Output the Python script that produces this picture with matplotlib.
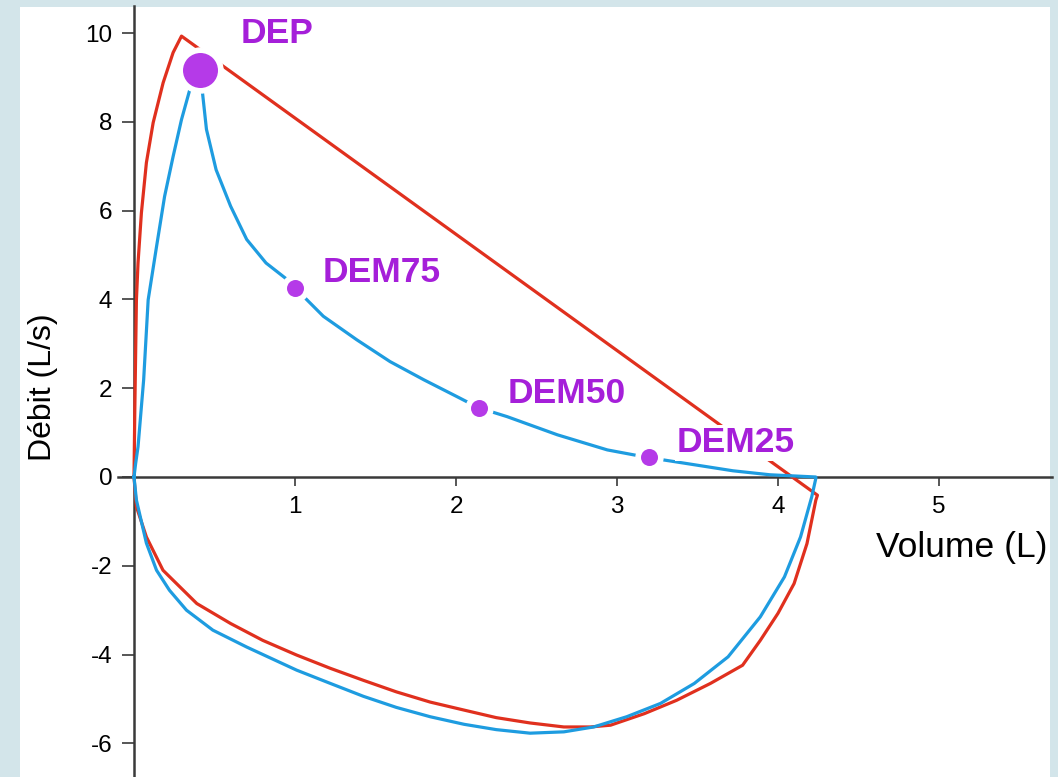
import matplotlib
matplotlib.use("Agg")
import matplotlib.pyplot as plt
from matplotlib.patches import Rectangle

plt.rcParams['font.family'] = ['Liberation Sans', 'DejaVu Sans']
plt.rcParams['axes.unicode_minus'] = False

# Red loop (expiration then inspiration), volume in L, flow in L/s.
red_volume = [0.0, 0.005, 0.015, 0.025, 0.046, 0.077, 0.119, 0.181, 0.243, 0.295,
              4.245, 4.235, 4.18, 4.10, 4.0, 3.89, 3.78, 3.58, 3.37, 3.17, 2.96,
              2.835, 2.67, 2.46, 2.25, 2.05, 1.84, 1.63, 1.425, 1.22, 1.01, 0.80,
              0.60, 0.39, 0.18, 0.077, 0.015, 0.0]
red_flow   = [0.0, 1.5, 3.99, 4.82, 5.95, 7.08, 7.98, 8.88, 9.56, 9.93,
              -0.41, -0.52, -1.5, -2.40, -3.07, -3.68, -4.24, -4.65, -5.03, -5.33, -5.59,
              -5.63, -5.63, -5.54, -5.42, -5.25, -5.07, -4.84, -4.58, -4.31, -4.01, -3.68,
              -3.3, -2.85, -2.1, -1.35, -0.67, 0.0]

# Blue loop.
blue_volume = [0.0, 0.01, 0.025, 0.06, 0.088, 0.14, 0.19, 0.243, 0.295, 0.347, 0.41,
               0.45, 0.51, 0.60, 0.70, 0.82, 0.94, 1.0, 1.176, 1.384, 1.59, 1.80,
               2.006, 2.14, 2.317, 2.63, 2.94, 3.19, 3.35, 3.72, 3.95, 4.235,
               4.235, 4.21, 4.14, 4.04, 3.89, 3.69, 3.48, 3.27, 3.06, 2.855,
               2.67, 2.46, 2.25, 2.05, 1.84, 1.63, 1.425, 1.22, 1.01, 0.70, 0.49,
               0.326, 0.22, 0.14, 0.077, 0.015, 0.0]
blue_flow   = [0.0, 0.3, 0.68, 2.19, 3.99, 5.19, 6.32, 7.22, 8.05, 8.73, 9.17,
               7.83, 6.92, 6.1, 5.35, 4.82, 4.48, 4.26, 3.62, 3.09, 2.6, 2.19,
               1.81, 1.56, 1.36, 0.95, 0.61, 0.44, 0.35, 0.14, 0.05, 0.0,
               -0.03, -0.44, -1.35, -2.25, -3.15, -4.05, -4.65, -5.1, -5.4, -5.63,
               -5.74, -5.77, -5.69, -5.57, -5.4, -5.19, -4.94, -4.65, -4.35, -3.83, -3.45,
               -3.0, -2.55, -2.1, -1.49, -0.52, 0.0]

# Marked points on the blue curve.
point_names  = ["DEP", "DEM75", "DEM50", "DEM25"]
point_volume = [0.41, 1.0, 2.14, 3.2]
point_flow   = [9.17, 4.26, 1.56, 0.44]
label_volume = [0.66, 1.17, 2.32, 3.37]
label_flow   = [10.0, 4.6, 1.89, 0.77]

x_ticks = [1, 2, 3, 4, 5]
y_ticks = [-6, -4, -2, 0, 2, 4, 6, 8, 10]

red   = '#e0301e'
blue  = '#1e9ce0'
purple_text   = '#a51fd9'
purple_marker = '#b53ae8'
axis_color = '#3a3a3a'

fig = plt.figure(figsize=(10.58, 7.77), dpi=100, facecolor='#d3e5ea')
fig.patches.append(Rectangle((20/1058, 0), 1030/1058, 770/777, transform=fig.transFigure,
                             facecolor='white', edgecolor='none', zorder=-5))

ax = fig.add_axes([117.9/1058, 0.0004, 933.8/1058, 0.9914])
ax.set_facecolor('none')
ax.set_xlim(-0.1, 5.7)
ax.set_ylim(-6.75, 10.6)

# Curves.
ax.plot(red_volume, red_flow, color=red, lw=2.3, zorder=3, solid_joinstyle='round')
ax.plot(blue_volume, blue_flow, color=blue, lw=2.3, zorder=4, solid_joinstyle='round')

# Markers with a white halo.
sizes = [35, 17, 17, 17]
for i in range(len(point_names)):
  ax.plot(point_volume[i], point_flow[i], 'o', ms=(sizes[i]+10)*0.72, color='white', zorder=5)
  ax.plot(point_volume[i], point_flow[i], 'o', ms=sizes[i]*0.72, color=purple_marker,
          markeredgewidth=0, zorder=6)
  ax.text(label_volume[i], label_flow[i], point_names[i], color=purple_text, fontsize=25.5,
          fontweight='bold', ha='left', va='center', zorder=7,
          bbox=dict(facecolor='white', edgecolor='none', pad=1.0))

# Axes through the origin.
for side in ['top', 'right']:
  ax.spines[side].set_visible(False)
ax.spines['left'].set_position(('data', 0))
ax.spines['bottom'].set_position(('data', 0))
for side in ['left', 'bottom']:
  ax.spines[side].set_color(axis_color)
  ax.spines[side].set_linewidth(1.8)
  ax.spines[side].set_zorder(2)

ax.set_xticks(x_ticks)
ax.set_yticks(y_ticks)
ax.tick_params(axis='x', direction='out', length=6.5, width=1.2, color=axis_color,
               labelsize=17.5, pad=7)
ax.tick_params(axis='y', direction='out', length=8.6, width=1.2, color=axis_color,
               labelsize=17.5, pad=7)

ax.set_xlabel("Volume (L)", fontsize=25.5, ha='right', va='center')
ax.xaxis.set_label_coords(0.995, 0.297)
ax.set_ylabel("Débit (L/s)", fontsize=23, va='center')
ax.yaxis.set_label_coords(-0.080, 0.505)

fig.savefig("out.png", dpi=100, facecolor=fig.get_facecolor())
